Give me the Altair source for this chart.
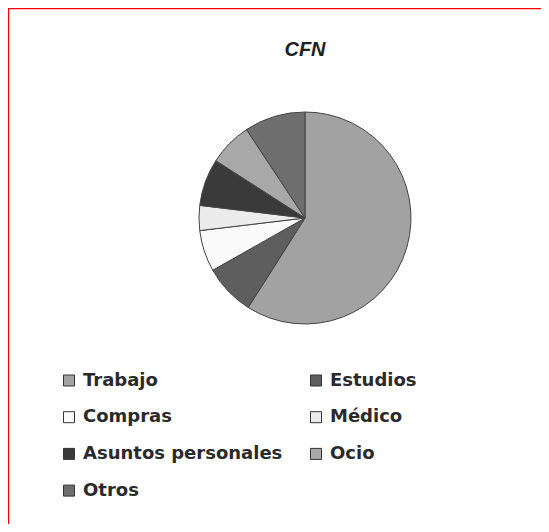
import altair as alt
import pandas as pd

categories = ["Trabajo", "Estudios", "Compras", "Médico", "Asuntos personales", "Ocio", "Otros"]
values = [59.0, 7.8, 6.3, 3.8, 7.2, 6.6, 9.3]
colors = ["#a2a2a2", "#5e5e5e", "#fafafa", "#ececec", "#3a3a3a", "#a8a8a8", "#6e6e6e"]
# legend is filled column by column: reorder so it reads row by row as in the original
legend_order = ["Trabajo", "Compras", "Asuntos personales", "Otros", "Estudios", "Médico", "Ocio"]
title_text = ["CFN"]

W, H = 533, 516

df = pd.DataFrame({"categoria": categories, "valor": values, "idx": list(range(len(categories)))})
color_of = dict(zip(categories, colors))

pie = alt.Chart(df).mark_arc(radius=106, stroke="#444444", strokeWidth=1).encode(
    theta=alt.Theta("valor:Q", stack=True),
    order=alt.Order("idx:Q"),
    x=alt.value(297),
    y=alt.value(210),
    color=alt.Color(
        "categoria:N",
        scale=alt.Scale(domain=legend_order, range=[color_of[c] for c in legend_order]),
        sort=legend_order,
        legend=alt.Legend(
            title=None,
            orient="none",
            legendX=52,
            legendY=363.5,
            columns=2,
            columnPadding=24,
            rowPadding=18.7,
            padding=0,
            symbolType="square",
            symbolSize=121,
            symbolStrokeColor="#333333",
            symbolStrokeWidth=1,
            labelFont="DejaVu Sans",
            labelFontWeight="bold",
            labelFontSize=18,
            labelColor="#2a2a2a",
            labelOffset=5,
            labelLimit=0,
        ),
    ),
)

title = alt.Chart(pd.DataFrame({"t": title_text})).mark_text(
    font="Liberation Sans", fontSize=20, fontWeight="bold", fontStyle="italic",
    color="#222222", align="center", baseline="alphabetic",
).encode(text="t:N", x=alt.value(297), y=alt.value(48))

frame_top = alt.Chart(pd.DataFrame({"a": [0]})).mark_rule(color="#ff0000", strokeWidth=1.5).encode(
    x=alt.value(0), x2=alt.value(W), y=alt.value(0.5)
)
frame_left = alt.Chart(pd.DataFrame({"a": [0]})).mark_rule(color="#ff0000", strokeWidth=1.5).encode(
    x=alt.value(0.5), y=alt.value(0), y2=alt.value(H)
)

chart = alt.layer(pie, title, frame_top, frame_left).properties(
    width=W, height=H, autosize=alt.AutoSizeParams(type="none"), padding=0,
).configure_view(stroke=None).configure(background="white")

chart.save("out.html", embed_options={"renderer": "svg", "actions": False})
